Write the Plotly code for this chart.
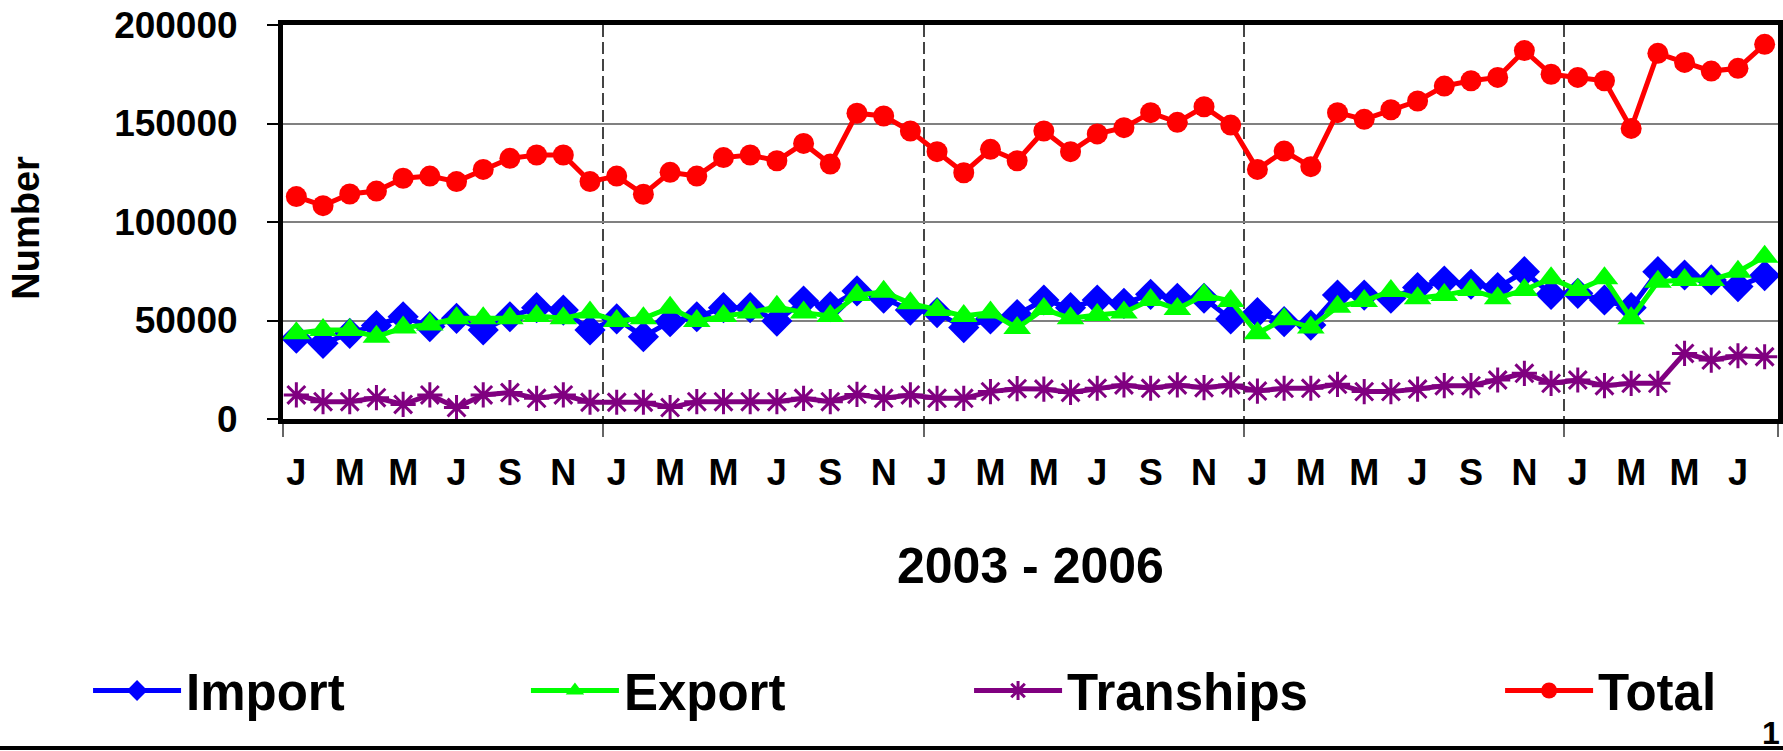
import plotly.graph_objects as go

# ---- data ----
month_names = ["Jan", "Feb", "Mar", "Apr", "May", "Jun", "Jul", "Aug", "Sep", "Oct", "Nov", "Dec"]
years = [2003, 2004, 2005, 2006, 2007]
months = [f"{m} {y}" for y in years for m in month_names][:56]

import_vals = [41000, 38400, 43500, 47400, 51900, 46900, 51100, 45200, 51900, 56500, 55300, 45200,
               50800, 41800, 49400, 51900, 56500, 56500, 49700, 59900, 57000, 65000, 61300, 55300,
               54000, 46400, 50800, 53000, 60400, 56500, 60400, 58700, 63300, 61300, 61300, 50800,
               54000, 49400, 47700, 62900, 62900, 61300, 66700, 70000, 68400, 66700, 74800, 63300,
               63800, 60400, 56500, 74800, 73100, 70600, 67200, 72800]
export_vals = [43500, 45200, 45200, 41800, 46400, 48000, 51100, 51100, 51100, 52300, 51100, 54100,
               49700, 51100, 56500, 49700, 52300, 54000, 57000, 54000, 52300, 62900, 64600, 58700,
               55300, 52300, 54000, 46200, 55800, 51100, 52800, 54100, 60400, 55800, 62900, 59900,
               43500, 50600, 46400, 57000, 59900, 65000, 61300, 62900, 65500, 61300, 65500, 71400,
               65500, 71400, 51100, 69700, 70600, 70600, 74800, 82400]
tranship_vals = [12200, 8800, 8800, 10800, 7400, 12200, 5800, 12200, 13400, 10500, 12200, 8500,
                 8500, 8500, 5800, 8800, 8800, 8800, 8800, 10500, 8800, 12500, 10500, 12200,
                 10500, 10500, 13900, 15400, 15200, 13500, 15600, 17300, 15600, 17300, 15900, 17300,
                 14200, 15600, 15600, 17600, 13900, 13900, 15200, 16900, 16900, 19800, 23200, 18100,
                 19800, 16900, 18100, 18100, 33300, 29900, 32100, 31600]
total_vals = [112900, 108300, 114200, 115700, 122200, 123300, 120500, 126700, 132300, 134000, 134000, 120500,
              123300, 114100, 125200, 123300, 132700, 134000, 131100, 139900, 129400, 155200, 153800, 146200,
              135700, 125000, 136900, 131100, 146200, 135700, 144700, 147900, 155500, 150600, 158500, 149200,
              126700, 136000, 128100, 155500, 152100, 157000, 161400, 169000, 171700, 173400, 187000, 175000,
              173400, 171700, 147500, 185600, 181000, 176600, 178000, 190200]

y_ticks = [0, 50000, 100000, 150000, 200000]
y_tick_labels = ["0", "50000", "100000", "150000", "200000"]
x_title = "2003 - 2006"
y_title = "Number"

# ---- figure ----
FONT = "Liberation Sans, Arial, sans-serif"
xs = list(range(len(months)))
tick_idx = xs[::2]
tick_text = [months[i][0] for i in tick_idx]
year_bounds = [i - 0.5 for i in xs if i % 12 == 0] + [len(xs) - 0.5]

series = [
    ("Import", import_vals, "#0000FF", dict(symbol="diamond", size=24, color="#0000FF")),
    ("Export", export_vals, "#00FF00", dict(symbol="triangle-up", size=24, color="#00FF00")),
    ("Tranships", tranship_vals, "#800080",
     dict(symbol="asterisk-open", size=21, line=dict(color="#800080", width=3))),
    ("Total", total_vals, "#FF0000", dict(symbol="circle", size=21, color="#FF0000")),
]
legend_ids = ["legend", "legend2", "legend3", "legend4"]
legend_x = [-0.1304, 0.1625, 0.4589, 0.8141]

fig = go.Figure()
for (name, vals, color, marker), lid in zip(series, legend_ids):
    fig.add_trace(go.Scatter(x=xs, y=vals, name=name, mode="lines+markers",
                             line=dict(color=color, width=5), marker=marker, legend=lid))

legend_common = dict(orientation="h", xanchor="left", y=-0.69, yanchor="middle",
                     font=dict(family=FONT, size=51, color="black", weight="bold"),
                     bgcolor="rgba(0,0,0,0)", itemsizing="trace", itemwidth=88)
fig.update_layout(
    width=1783, height=751,
    margin=dict(l=283, r=5, t=25, b=332, autoexpand=False),
    paper_bgcolor="white", plot_bgcolor="white",
    font=dict(family=FONT, color="black"),
    showlegend=True,
    legend=dict(x=legend_x[0], **legend_common),
    legend2=dict(x=legend_x[1], **legend_common),
    legend3=dict(x=legend_x[2], **legend_common),
    legend4=dict(x=legend_x[3], **legend_common),
)

fig.update_xaxes(
    range=[-0.5, len(xs) - 0.5], automargin=False,
    tickmode="array", tickvals=tick_idx, ticktext=tick_text,
    ticks="", showgrid=False, zeroline=False,
    ticklabelstandoff=18,
    tickfont=dict(family=FONT, size=36, color="black", weight="bold"),
    showline=True, linewidth=5, linecolor="black", mirror=True,
    minor=dict(tickmode="array", tickvals=year_bounds, ticks="outside", ticklen=13,
               tickcolor="#666666", tickwidth=1.5,
               showgrid=True, gridcolor="#444444", gridwidth=1.5, griddash="12px,5px"),
)
fig.update_yaxes(
    range=[0, 200000], automargin=False,
    tickmode="array", tickvals=y_ticks, ticktext=y_tick_labels,
    ticks="outside", ticklen=11, tickcolor="black", tickwidth=1.5,
    ticklabelstandoff=22,
    tickfont=dict(family=FONT, size=37, color="black", weight="bold"),
    showgrid=True, gridcolor="#808080", gridwidth=1.5, zeroline=False,
    showline=True, linewidth=5, linecolor="black", mirror=True,
)

fig.add_annotation(text=y_title, xref="paper", yref="paper", x=-0.172, y=0.485,
                   xanchor="center", yanchor="middle", textangle=-90, showarrow=False,
                   font=dict(family=FONT, size=38, color="black", weight="bold"))
fig.add_annotation(text=x_title, xref="paper", yref="paper", x=0.5, y=-0.373,
                   xanchor="center", yanchor="middle", showarrow=False,
                   font=dict(family=FONT, size=50, color="black", weight="bold"))
fig.add_annotation(text="1", xref="paper", yref="paper", x=0.9953, y=-0.797,
                   xanchor="center", yanchor="middle", showarrow=False,
                   font=dict(family=FONT, size=32, color="black", weight="bold"))
fig.add_shape(type="line", xref="paper", yref="paper", x0=-0.2, x1=1.01,
              y0=-0.835, y1=-0.835, line=dict(color="black", width=4))

fig.write_html("out.html", config={"displayModeBar": False},
               post_script="document.body.style.margin='0';")
